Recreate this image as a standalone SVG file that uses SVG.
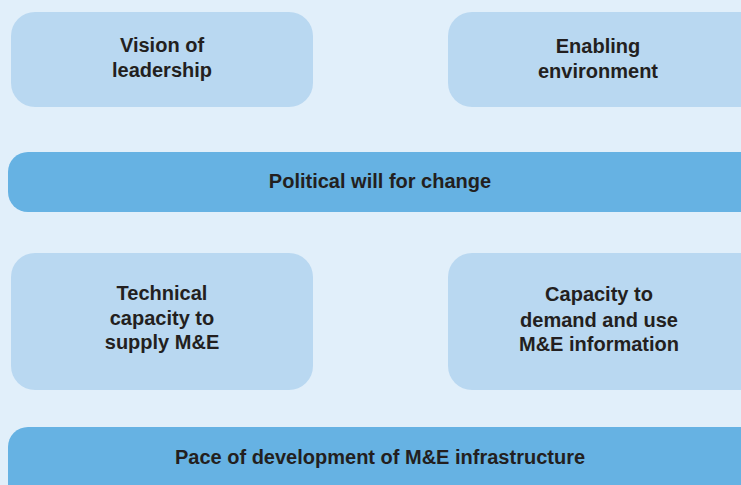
<svg xmlns="http://www.w3.org/2000/svg" width="741" height="485" viewBox="0 0 741 485">
<style>
.bg{fill:#E1EFFA}
.lt{fill:#B9D8F1}
.dk{fill:#66B2E3}
text{font-family:"Liberation Sans",Arial,sans-serif;font-weight:bold;font-size:20px;fill:#231F20;text-anchor:middle}
</style>
<rect class="bg" x="0" y="0" width="741" height="485"/>
<g id="vision">
<rect class="lt" x="11" y="12" width="302" height="95" rx="24"/>
<text x="162" y="52">Vision of</text>
<text x="162" y="77">leadership</text>
</g>
<g id="enabling">
<rect class="lt" x="448" y="12" width="320" height="95" rx="24"/>
<text x="598" y="53">Enabling</text>
<text x="598" y="78">environment</text>
</g>
<g id="political">
<rect class="dk" x="8" y="152" width="760" height="60" rx="20"/>
<text x="380" y="188">Political will for change</text>
</g>
<g id="technical">
<rect class="lt" x="11" y="253" width="302" height="137" rx="24"/>
<text x="162" y="300">Technical</text>
<text x="162" y="325">capacity to</text>
<text x="162" y="349">supply M&amp;E</text>
</g>
<g id="demand">
<rect class="lt" x="448" y="253" width="320" height="137" rx="24"/>
<text x="599" y="301">Capacity to</text>
<text x="599" y="327">demand and use</text>
<text x="599" y="351">M&amp;E information</text>
</g>
<g id="pace">
<rect class="dk" x="8" y="427" width="760" height="80" rx="20"/>
<text x="380" y="464">Pace of development of M&amp;E infrastructure</text>
</g>
<g id="connectors"></g>
</svg>
